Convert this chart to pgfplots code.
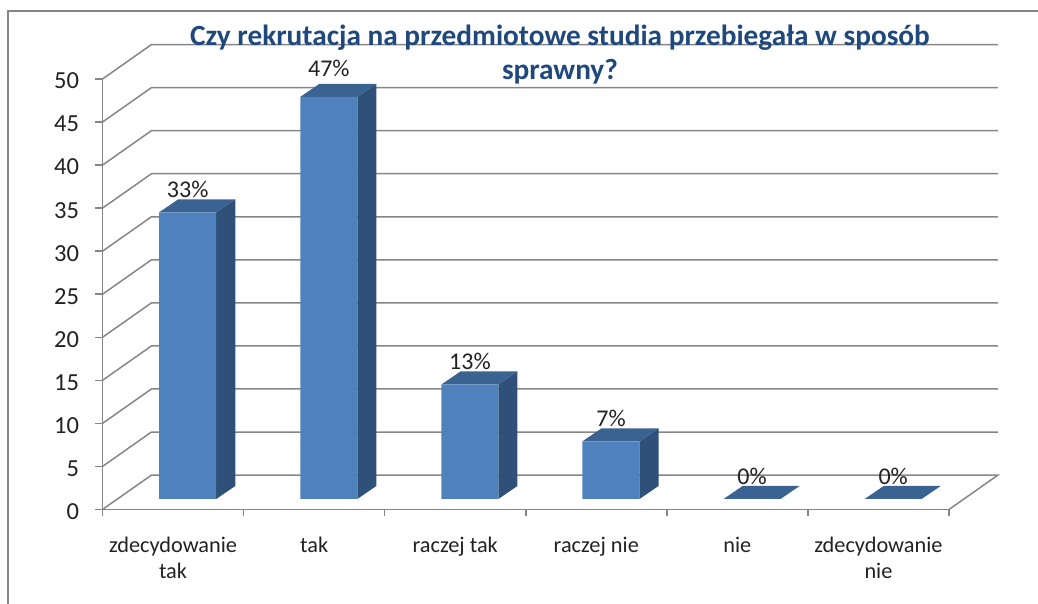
\documentclass[border=0pt]{standalone}
\usepackage{fontspec}
\setmainfont{Carlito}
\usepackage{pgfplots}
\pgfplotsset{compat=1.18}
\definecolor{barfront}{HTML}{4F81BD}
\definecolor{bartop}{HTML}{3A6391}
\definecolor{barside}{HTML}{2F5078}
\definecolor{gridgray}{HTML}{868686}
\definecolor{titleblue}{HTML}{1F497D}
\definecolor{labeltxt}{HTML}{222222}

\begin{document}
\begin{tikzpicture}
  \useasboundingbox (-102.5pt,-94.5pt) rectangle (935.5pt,509.5pt);
  % outer chart frame, runs off the right and bottom of the picture
  \draw[gridgray,line width=1.5pt] (-94.5pt,-94.5pt) -- (-94.5pt,498.5pt) -- (935.5pt,498.5pt);
  \begin{axis}[
      at={(0pt,0pt)},anchor=origin,
      scale only axis,width=846.5pt,height=430.5pt,
      xmin=0,xmax=6,ymin=0,ymax=50,
      clip=false,
      axis lines=left,
      axis line style={gridgray,line width=1.5pt,-},
      tick style={gridgray,line width=1.5pt},
      tick align=outside,
      major tick length=7pt,
      ytick={0,5,...,50},
      xtick={0,1,2,3,4,5,6},
      xticklabels={},
      extra x ticks={0.5,1.5,2.5,3.5,4.5,5.5},
      extra x tick labels={{zdecydowanie\\tak},tak,{raczej tak},{raczej nie},nie,{zdecydowanie\\nie}},
      extra x tick style={major tick length=0pt,tick style={draw=none}},
      xticklabel style={align=center,font=\fontsize{22.3}{26}\selectfont,text=labeltxt,yshift=-24pt},
      yticklabel style={font=\fontsize{24.5}{28}\selectfont,text=labeltxt,xshift=-13pt,yshift=-2pt},
      /pgf/number format/assume math mode=true,
      title={Czy rekrutacja na przedmiotowe studia przebiegała w sposób\\sprawny?},
      title style={at={(0.5404,1.0440)},anchor=center,align=center,
        font=\fontsize{29.3}{34}\selectfont\bfseries,text=titleblue},
    ]
    % walls: one line per gridline value, side wall then back wall
    \addplot[gridgray,line width=1.5pt] coordinates {(0,0) (0.347,4) (6.347,4) (6,0)};
    \addplot[gridgray,line width=1.5pt] coordinates {(0,5) (0.347,9) (6.347,9)};
    \addplot[gridgray,line width=1.5pt] coordinates {(0,10) (0.347,14) (6.347,14)};
    \addplot[gridgray,line width=1.5pt] coordinates {(0,15) (0.347,19) (6.347,19)};
    \addplot[gridgray,line width=1.5pt] coordinates {(0,20) (0.347,24) (6.347,24)};
    \addplot[gridgray,line width=1.5pt] coordinates {(0,25) (0.347,29) (6.347,29)};
    \addplot[gridgray,line width=1.5pt] coordinates {(0,30) (0.347,34) (6.347,34)};
    \addplot[gridgray,line width=1.5pt] coordinates {(0,35) (0.347,39) (6.347,39)};
    \addplot[gridgray,line width=1.5pt] coordinates {(0,40) (0.347,44) (6.347,44)};
    \addplot[gridgray,line width=1.5pt] coordinates {(0,45) (0.347,49) (6.347,49)};
    \addplot[gridgray,line width=1.5pt] coordinates {(0,50) (0.347,54) (6.347,54)};

    % side faces
    \addplot[fill=barside,draw=none,yshift=10.5pt] coordinates {(0.806,0) (0.941,1.51) (0.941,34.81) (0.806,33.3)} -- cycle;
    \addplot[fill=barside,draw=none,yshift=10.5pt] coordinates {(1.806,0) (1.941,1.51) (1.941,48.21) (1.806,46.7)} -- cycle;
    \addplot[fill=barside,draw=none,yshift=10.5pt] coordinates {(2.806,0) (2.941,1.51) (2.941,14.81) (2.806,13.3)} -- cycle;
    \addplot[fill=barside,draw=none,yshift=10.5pt] coordinates {(3.806,0) (3.941,1.51) (3.941,8.21) (3.806,6.7)} -- cycle;
    % top faces
    \addplot[fill=bartop,draw=none,yshift=10.5pt] coordinates {(0.402,33.3) (0.806,33.3) (0.941,34.81) (0.537,34.81)} -- cycle;
    \addplot[fill=bartop,draw=none,yshift=10.5pt] coordinates {(1.402,46.7) (1.806,46.7) (1.941,48.21) (1.537,48.21)} -- cycle;
    \addplot[fill=bartop,draw=none,yshift=10.5pt] coordinates {(2.402,13.3) (2.806,13.3) (2.941,14.81) (2.537,14.81)} -- cycle;
    \addplot[fill=bartop,draw=none,yshift=10.5pt] coordinates {(3.402,6.7) (3.806,6.7) (3.941,8.21) (3.537,8.21)} -- cycle;
    \addplot[fill=bartop,draw=none,yshift=10.5pt] coordinates {(4.402,0) (4.806,0) (4.941,1.51) (4.537,1.51)} -- cycle;
    \addplot[fill=bartop,draw=none,yshift=10.5pt] coordinates {(5.402,0) (5.806,0) (5.941,1.51) (5.537,1.51)} -- cycle;
    % front faces with their labels
    \addplot[ybar,bar width=57pt,bar shift=14.7pt,yshift=10.5pt,fill=barfront,draw=none,
      point meta=explicit symbolic,
      nodes near coords,
      every node near coord/.append style={anchor=center,xshift=14.7pt,yshift=23pt,
        font=\fontsize{24}{28}\selectfont,text=labeltxt},
      coordinate style/.condition={\coordindex==1}{yshift=5pt}]
      coordinates {(0.5,33.3)[33\%] (1.5,46.7)[47\%] (2.5,13.3)[13\%]
                   (3.5,6.7)[7\%] (4.5,0)[0\%] (5.5,0)[0\%]};
  \end{axis}
\end{tikzpicture}
\end{document}
